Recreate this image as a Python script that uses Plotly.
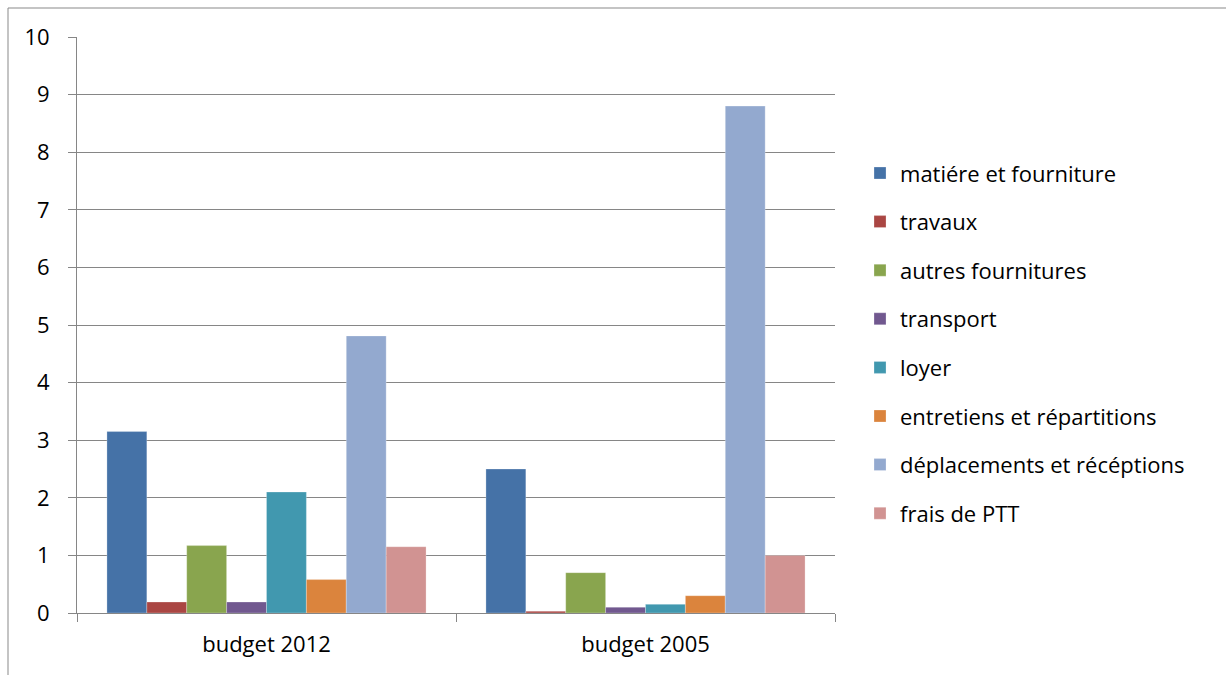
import plotly.graph_objects as go

categories = ["budget 2012", "budget 2005"]
series_names = [
    "matiére et fourniture",
    "travaux",
    "autres fournitures",
    "transport",
    "loyer",
    "entretiens et répartitions",
    "déplacements et récéptions",
    "frais de PTT",
]
values_2012 = [3.15, 0.19, 1.17, 0.19, 2.1, 0.58, 4.81, 1.15]
values_2005 = [2.5, 0.03, 0.7, 0.1, 0.15, 0.3, 8.8, 1.0]
colors = ["#4572A7", "#AA4643", "#89A54E", "#71588F", "#4198AF", "#DB843D", "#93A9CF", "#D19392"]
y_ticks = list(range(0, 11))

FONT = "Open Sans"
FS = 22
fig = go.Figure()
for i, name in enumerate(series_names):
    fig.add_trace(go.Bar(
        x=categories,
        y=[values_2012[i], values_2005[i]],
        name=name,
        legendgroup=name,
        marker=dict(color=colors[i], line=dict(color="rgba(255,255,255,0.5)", width=0.5)),
    ))

fig.update_layout(
    width=1226, height=675,
    margin=dict(l=77, r=391, t=37, b=62),
    paper_bgcolor="white", plot_bgcolor="white",
    barmode="group", bargap=0.158, bargroupgap=0,
    font=dict(family=FONT, size=FS, color="black"),
    legend=dict(
        x=1.033, xanchor="left", y=0.8, yanchor="top",
        traceorder="grouped", tracegroupgap=17,
        font=dict(family=FONT, size=FS, color="black"),
    ),
    showlegend=True,
)
fig.update_yaxes(
    range=[0, 10], tickvals=y_ticks, ticktext=[str(t) for t in y_ticks],
    showgrid=True, gridcolor="#868686", gridwidth=1,
    showline=True, linecolor="#868686", linewidth=1,
    ticks="outside", ticklen=8, tickcolor="#868686",
    zeroline=False, fixedrange=True, ticklabelstandoff=14,
    tickfont=dict(family=FONT, size=FS, color="black"),
)
fig.update_xaxes(
    showline=True, linecolor="#868686", linewidth=1,
    ticks="outside", ticklen=8, tickcolor="#868686", tickson="boundaries",
    showgrid=False, ticklabelstandoff=12,
    tickfont=dict(family=FONT, size=FS, color="black"),
)
# outer chart frame (top and left edges)
fig.add_shape(type="line", xref="paper", yref="paper",
              x0=(8 - 77) / 758, x1=(1226 - 77) / 758, y0=(613 - 8) / 576, y1=(613 - 8) / 576,
              line=dict(color="#898989", width=1))
fig.add_shape(type="line", xref="paper", yref="paper",
              x0=(8 - 77) / 758, x1=(8 - 77) / 758, y0=(613 - 8) / 576, y1=(613 - 676) / 576,
              line=dict(color="#898989", width=1))

fig.write_html("out.html")
